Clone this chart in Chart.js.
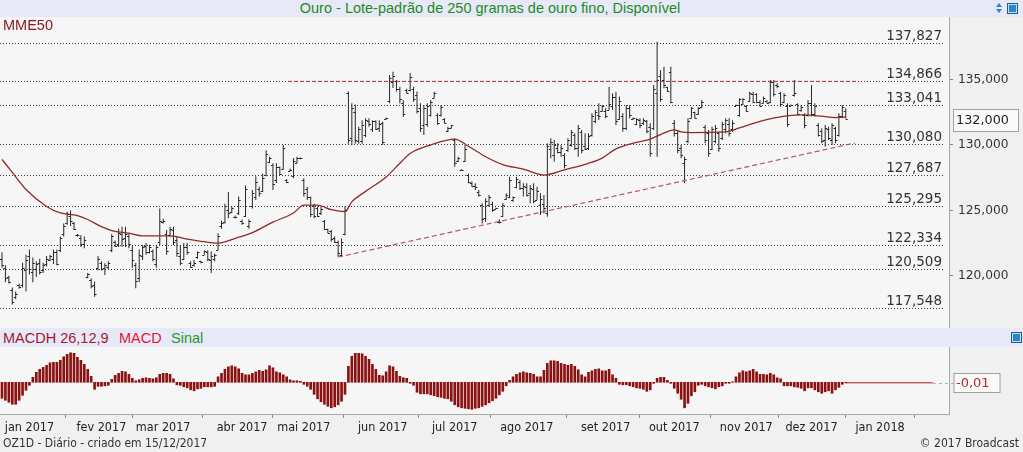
<!DOCTYPE html>
<html lang="pt-BR">
<head>
<meta charset="utf-8">
<title>Ouro - OZ1D - Diário</title>
<script src="https://cdn.jsdelivr.net/npm/chart.js@4.4.1/dist/chart.umd.min.js"></script>
<style>
  html, body { margin: 0; padding: 0; }
  body {
    width: 1023px; height: 452px; position: relative; overflow: hidden;
    background: #F0F0F0; font-family: "Liberation Sans", Arial, sans-serif;
  }
  canvas { display: block; }
  .band { position: absolute; left: 0; width: 1023px; background: #E7E9F8; }
  #title-band { top: 0; height: 17px; }
  #title {
    position: absolute; left: 0; top: 0; width: 980px; text-align: center;
    font-size: 14.5px; line-height: 17px; color: #1E8B1E; white-space: nowrap;
  }
  #price-wrap { position: absolute; left: 0; top: 17px; width: 1023px; height: 311px; }
  #mme-label {
    position: absolute; left: 3px; top: 18px; font-size: 14.5px; line-height: 15px; color: #8B1A22;
  }
  #macd-band { top: 328px; height: 19px; }
  #macd-band span { position: absolute; top: 1px; font-size: 14.5px; line-height: 19px; white-space: nowrap; }
  #macd-wrap { position: absolute; left: 0; top: 347px; width: 1023px; height: 90px; }
  .foot {
    position: absolute; top: 436px; font-family: "DejaVu Sans Condensed", "DejaVu Sans", sans-serif;
    font-size: 12px; line-height: 15px; color: #333; white-space: nowrap;
  }
  .icon {
    position: absolute; width: 9px; height: 9px; background: #2F86C9;
    border: 1px solid #1C5E96; box-shadow: inset 0 0 0 1px #BFE0F7;
  }
  .tri { position: absolute; width: 0; height: 0; border-left: 3px solid transparent; border-right: 3px solid transparent; }
</style>
</head>
<body>

<div id="title-band" class="band">
  <span id="title">Ouro - Lote-padrão de 250 gramas de ouro fino, Disponível</span>
  <div class="tri" style="left:996px; top:3px; border-bottom:4px solid #2F86C9;"></div>
  <div class="tri" style="left:996px; top:9px; border-top:4px solid #2F86C9;"></div>
  <div class="icon" style="left:1007px; top:3px;"></div>
</div>

<div id="price-wrap"><canvas id="price-chart" width="1023" height="311"></canvas></div>
<div id="mme-label">MME50</div>

<div id="macd-band" class="band">
  <span style="left:3px; color:#A3182A;">MACDH 26,12,9</span>
  <span style="left:119px; color:#E0182E;">MACD</span>
  <span style="left:171px; color:#2A962A;">Sinal</span>
  <div class="icon" style="left:1011px; top:4px;"></div>
</div>

<div id="macd-wrap"><canvas id="macd-chart" width="1023" height="90"></canvas></div>

<div class="foot" style="left:3px;">OZ1D - Diário - criado em 15/12/2017</div>
<div class="foot" style="right:4px;">© 2017 Broadcast</div>

<script>
// Dados diários (índice = pregão, 0 = fim de dez/2016)
const opens = [
  121.3, 120.6, 119.9, 118.9, 118.4, 119.3, 119.3, 120.4, 121.5, 120.3,
  120.5, 121.0, 120.4, 120.9, 121.2, 121.3, 121.8, 122.0, 123.2, 124.0,
  124.6, 124.0, 123.1, 122.9, 122.4, 119.9, 119.7, 119.3, 120.6, 121.0,
  120.6, 120.7, 122.0, 122.6, 122.4, 123.2, 122.9, 123.0, 122.0, 120.8,
  119.8, 121.5, 122.3, 121.8, 121.9, 120.9, 122.6, 124.1, 123.2, 123.1,
  123.5, 122.7, 121.5, 121.3, 122.2, 121.0, 120.8, 121.4, 121.1, 121.6,
  121.8, 121.2, 121.3, 122.0, 123.8, 124.1, 125.0, 124.9, 124.5, 124.8,
  124.2, 124.6, 123.8, 125.3, 126.0, 126.6, 126.5, 127.7, 128.7, 128.5,
  127.3, 128.3, 128.2, 127.3, 128.0, 127.6, 128.6, 129.0, 127.3, 126.6,
  126.0, 125.3, 125.2, 124.8, 124.2, 123.55, 123.4, 122.9, 122.6, 121.6,
  123.2, 134.0, 130.5, 132.5, 130.3, 130.3, 130.8, 131.8, 131.2, 131.8,
  131.3, 131.7, 132.0, 133.4, 134.8, 134.9, 134.3, 133.2, 134.2, 134.2,
  134.3, 133.8, 132.8, 131.5, 131.6, 132.3, 133.6, 132.3, 132.3, 132.0,
  131.1, 131.3, 130.4, 128.8, 128.1, 128.8, 127.7, 127.1, 126.9, 126.4,
  125.4, 124.4, 125.4, 125.5, 125.1, 124.1, 124.6, 125.9, 126.0, 125.8,
  126.8, 127.2, 126.7, 126.8, 126.3, 126.6, 125.8, 125.4, 125.5, 124.8,
  129.7, 129.2, 129.8, 129.5, 129.2, 129.6, 130.0, 130.8, 129.8, 131.0,
  129.9, 129.8, 130.8, 131.8, 132.3, 132.6, 132.6, 132.7, 133.0, 133.7,
  132.0, 132.2, 131.3, 132.8, 132.0, 131.6, 131.9, 131.7, 131.8, 131.4,
  131.3, 134.0, 135.3, 135.0, 134.4, 135.6, 131.7, 130.9, 129.8, 128.6,
  130.3, 132.1, 132.5, 132.4, 132.9, 131.4, 130.9, 129.7, 130.3, 130.9,
  130.5, 131.2, 131.6, 131.2, 133.0, 132.3, 133.1, 133.0, 133.4, 133.9,
  133.9, 133.3, 133.2, 133.4, 133.3, 134.8, 134.6, 134.0, 133.3, 133.0,
  133.0, 133.8, 133.1, 132.7, 132.3, 132.3, 133.2, 132.4, 131.5, 131.1,
  130.4, 131.2, 130.4, 131.3, 130.8, 132.2, 132.6
];
const highs = [
  121.8, 120.8, 120.0, 119.1, 118.8, 119.4, 121.0, 121.6, 122.0, 121.4,
  121.1, 121.3, 121.0, 121.5, 121.6, 122.0, 122.0, 123.0, 124.0, 124.9,
  125.0, 124.1, 123.2, 123.1, 123.0, 120.2, 119.8, 119.55, 121.5, 121.1,
  120.95, 121.1, 123.2, 122.7, 123.6, 123.75, 123.75, 123.2, 122.3, 121.0,
  122.0, 122.35, 122.5, 122.35, 122.0, 122.35, 125.15, 124.35, 123.5, 123.75,
  123.75, 123.0, 122.35, 122.5, 122.5, 121.1, 121.2, 121.85, 121.15, 121.95,
  121.95, 121.85, 121.7, 123.25, 124.2, 125.5, 126.4, 125.3, 124.6, 126.05,
  124.3, 126.9, 124.3, 126.55, 127.6, 126.8, 127.8, 129.6, 129.1, 128.6,
  128.6, 128.35, 130.0, 127.4, 128.2, 129.0, 129.1, 129.05, 127.45, 126.8,
  126.05, 125.5, 125.3, 125.3, 124.26, 123.6, 123.5, 123.0, 122.7, 122.85,
  125.3, 134.1, 133.2, 133.1, 131.4, 131.9, 132.05, 132.05, 131.9, 131.9,
  131.9, 131.8, 132.1, 135.35, 135.6, 134.97, 134.45, 133.45, 134.3, 135.5,
  134.45, 134.1, 133.2, 133.06, 133.2, 133.44, 134.08, 132.43, 133.06, 132.04,
  131.4, 131.53, 130.5, 129.1, 128.15, 130.0, 127.8, 127.2, 127.07, 126.56,
  125.54, 125.92, 126.17, 125.66, 125.2, 124.3, 125.54, 126.3, 127.57, 126.05,
  127.57, 127.32, 127.07, 127.07, 126.94, 127.07, 126.81, 126.3, 126.17, 130.13,
  130.51, 130.38, 130.13, 130.0, 129.36, 130.51, 131.15, 130.9, 131.53, 131.15,
  130.9, 130.9, 132.43, 132.68, 133.19, 133.06, 132.81, 134.46, 133.95, 134.08,
  133.7, 132.43, 133.06, 133.06, 132.1, 132.04, 132.04, 132.04, 131.91, 131.66,
  134.59, 137.9, 135.74, 135.99, 134.46, 135.99, 131.91, 131.15, 130.0, 129.1,
  132.04, 132.93, 132.55, 132.9, 133.44, 131.53, 131.15, 131.4, 131.53, 131.02,
  131.78, 132.04, 132.04, 131.9, 133.1, 133.57, 133.57, 133.06, 134.08, 134.08,
  133.95, 133.44, 133.7, 133.44, 134.97, 134.97, 134.72, 134.08, 133.95, 133.19,
  133.1, 134.97, 133.19, 133.06, 132.43, 133.44, 134.59, 133.19, 131.66, 131.28,
  131.53, 131.4, 131.66, 131.4, 132.43, 133.06, 132.81
];
const lows = [
  120.6, 119.5, 119.4, 117.8, 118.2, 119.0, 119.1, 118.8, 120.1, 119.5,
  119.9, 120.1, 120.2, 120.7, 121.1, 120.9, 120.8, 121.8, 123.0, 123.9,
  123.8, 123.5, 123.0, 122.2, 122.1, 119.8, 119.05, 118.4, 120.4, 120.4,
  120.05, 120.5, 121.8, 122.2, 122.2, 122.2, 122.2, 122.1, 120.6, 119.05,
  119.5, 121.2, 121.6, 121.7, 121.1, 120.6, 122.35, 124.0, 121.6, 123.0,
  122.35, 121.45, 120.8, 121.2, 121.6, 120.6, 120.7, 121.3, 120.95, 121.6,
  121.1, 120.2, 121.1, 121.95, 123.6, 124.0, 124.4, 124.8, 124.4, 124.65,
  123.9, 124.5, 123.6, 125.15, 125.8, 126.05, 126.4, 127.6, 128.6, 126.55,
  127.1, 127.7, 128.1, 127.1, 128.0, 127.45, 128.6, 128.9, 126.05, 125.8,
  124.5, 124.4, 124.5, 124.65, 123.5, 123.25, 122.6, 122.5, 121.45, 121.45,
  123.1, 130.1, 130.0, 130.1, 130.1, 130.1, 130.6, 131.4, 131.0, 131.15,
  131.0, 130.0, 131.95, 133.2, 134.35, 134.1, 133.2, 132.15, 133.95, 134.1,
  133.3, 132.4, 131.0, 130.77, 131.4, 132.17, 133.57, 131.53, 132.17, 131.66,
  131.0, 131.28, 128.34, 128.7, 128.05, 128.7, 127.07, 126.8, 126.56, 126.05,
  124.0, 124.13, 125.28, 124.9, 125.1, 124.0, 124.5, 125.8, 125.92, 125.66,
  126.69, 126.56, 126.05, 126.05, 125.54, 125.54, 125.79, 124.64, 124.77, 124.51,
  128.98, 128.72, 129.36, 129.1, 128.2, 129.49, 129.87, 129.62, 129.1, 129.36,
  129.62, 129.62, 130.64, 131.66, 131.91, 132.55, 132.04, 132.68, 132.68, 131.53,
  131.91, 131.02, 131.15, 132.04, 131.95, 131.53, 131.28, 131.53, 130.9, 129.1,
  131.15, 129.1, 133.31, 134.34, 134.08, 133.19, 130.64, 129.36, 128.98, 127.07,
  130.13, 132.04, 132.04, 132.3, 132.81, 130.13, 129.1, 129.62, 130.13, 129.49,
  130.38, 130.9, 130.64, 131.0, 133.0, 132.17, 133.06, 132.55, 133.31, 133.19,
  133.19, 132.93, 133.19, 133.19, 133.19, 133.7, 134.34, 132.93, 133.19, 131.4,
  133.0, 133.7, 132.3, 132.55, 131.28, 132.17, 132.17, 132.17, 130.64, 130.13,
  129.87, 130.38, 130.0, 130.13, 130.64, 132.04, 132.0
];
const closes = [
  120.8, 119.8, 119.5, 118.0, 118.6, 119.1, 120.6, 121.2, 120.5, 121.0,
  120.9, 120.3, 120.8, 121.3, 121.5, 121.8, 120.9, 122.9, 123.8, 124.7,
  124.2, 123.6, 123.1, 122.4, 122.7, 120.15, 119.2, 118.6, 121.3, 120.5,
  120.8, 121.0, 123.0, 122.3, 123.3, 122.8, 123.2, 122.4, 121.2, 119.6,
  121.6, 122.2, 121.8, 122.2, 121.3, 122.2, 124.2, 124.2, 121.9, 123.6,
  122.6, 121.7, 121.0, 122.2, 121.8, 120.7, 121.0, 121.8, 121.05, 121.9,
  121.3, 121.5, 121.6, 123.0, 124.05, 125.3, 124.8, 125.2, 124.5, 125.8,
  124.0, 126.6, 124.2, 126.3, 127.2, 126.3, 127.5, 129.3, 129.0, 127.0,
  128.3, 127.8, 129.8, 127.2, 128.1, 128.8, 129.0, 129.0, 126.3, 126.0,
  124.7, 124.6, 124.6, 125.1, 123.6, 123.3, 122.8, 122.6, 121.7, 122.6,
  125.0, 130.4, 132.8, 130.4, 131.2, 131.5, 131.9, 131.6, 131.8, 131.2,
  131.6, 130.2, 132.05, 135.1, 135.3, 134.3, 133.5, 132.4, 134.0, 135.2,
  133.5, 132.6, 131.3, 132.8, 133.0, 133.3, 133.95, 131.7, 132.9, 131.7,
  131.3, 131.5, 128.6, 129.0, 128.1, 129.7, 127.2, 126.85, 126.8, 126.2,
  124.3, 125.7, 126.0, 125.0, 125.15, 124.1, 125.4, 126.2, 127.3, 126.0,
  127.4, 126.7, 126.9, 126.2, 126.7, 125.7, 126.5, 125.9, 125.2, 129.9,
  130.2, 130.0, 129.5, 129.8, 128.5, 130.4, 131.0, 129.8, 131.3, 129.6,
  129.7, 130.7, 132.2, 132.5, 132.2, 133.0, 132.2, 133.1, 133.7, 131.8,
  133.4, 131.3, 132.8, 132.3, 132.04, 131.95, 131.5, 131.9, 131.1, 129.4,
  134.3, 135.0, 133.5, 134.6, 134.1, 133.3, 130.9, 129.6, 129.2, 128.95,
  131.8, 132.8, 132.1, 132.8, 133.3, 130.4, 129.4, 131.2, 131.3, 129.8,
  131.6, 131.9, 130.9, 131.7, 133.06, 133.5, 133.5, 132.6, 134.0, 133.3,
  133.3, 133.0, 133.6, 133.2, 134.8, 133.9, 134.5, 133.1, 133.8, 131.6,
  133.06, 134.0, 132.4, 132.9, 131.5, 133.2, 132.4, 133.0, 130.8, 130.3,
  131.3, 130.5, 131.5, 130.4, 132.2, 132.9, 132.0
];

const mmeIdx = [
  0, 3, 7, 13, 17, 22, 25, 29, 32, 37, 41, 49, 54, 59, 63, 69, 73, 79, 85, 88,
  92, 96, 100, 102, 106, 112, 116, 119, 125, 132, 136, 141, 146, 152, 158, 164, 171, 175, 179, 185,
  189, 192, 196, 198, 201, 211, 215, 221, 227, 233, 239, 243, 246
];
const mmeVals = [
  128.9, 127.9, 126.6, 125.3, 124.8, 124.6, 124.3, 123.75, 123.45, 123.25, 123.05, 123.05, 122.8, 122.6, 122.5, 122.95, 123.3, 124.1, 124.8, 125.4,
  125.4, 125.05, 124.9, 125.65, 126.45, 127.55, 128.6, 129.35, 130.0, 130.45, 129.9, 129.1, 128.5, 128.15, 127.7, 128.1, 128.6, 129.0, 129.7, 130.2,
  130.45, 130.8, 131.15, 131.0, 130.95, 131.0, 131.3, 131.8, 132.15, 132.3, 132.2, 132.1, 132.15
];

// MACDH 26,12,9
const macdHist = [
  -0.32, -0.36, -0.40, -0.44, -0.44, -0.36, -0.26, -0.16, -0.06,
  0.10, 0.20, 0.26, 0.30, 0.34, 0.39, 0.40, 0.40, 0.44, 0.51, 0.56, 0.59, 0.58, 0.50, 0.44, 0.36, 0.26, 0.12,
  -0.14, -0.08, -0.08, -0.07, -0.06,
  0.06, 0.14, 0.18, 0.22, 0.21, 0.16, 0.08, 0.03, 0.05, 0.08, 0.09, 0.08, 0.07, 0.09, 0.16, 0.18, 0.18, 0.16, 0.07,
  -0.05, -0.06, -0.09, -0.11, -0.15, -0.17, -0.13, -0.12, -0.09, -0.09, -0.09, -0.08,
  0.11, 0.18, 0.26, 0.31, 0.33, 0.31, 0.27, 0.18, 0.15, 0.15, 0.18, 0.21, 0.24, 0.22, 0.25, 0.33, 0.29, 0.21, 0.19, 0.15, 0.11, 0.05, 0.03, 0.03, 0.02,
  -0.04, -0.08, -0.14, -0.24, -0.33, -0.39, -0.44, -0.48, -0.51, -0.49, -0.45, -0.38, -0.24,
  0.32, 0.52, 0.58, 0.58, 0.57, 0.52, 0.46, 0.36, 0.26, 0.14, 0.13, 0.21, 0.33, 0.31, 0.22, 0.12, 0.09, 0.08, -0.02,
  -0.06, -0.20, -0.23, -0.23, -0.23, -0.25, -0.27, -0.29, -0.30, -0.32, -0.33, -0.38, -0.45, -0.49, -0.51, -0.52, -0.53, -0.54, -0.52, -0.51, -0.48, -0.45, -0.41, -0.37, -0.32, -0.25, -0.18, -0.07, 0.04,
  0.11, 0.16, 0.19, 0.21, 0.19, 0.18, 0.16, 0.11, 0.11, 0.24, 0.38, 0.43, 0.43, 0.42, 0.38, 0.36, 0.34, 0.36, 0.32, 0.25, 0.15, 0.11, 0.20, 0.23, 0.26, 0.27, 0.23, 0.23, 0.26, 0.15, 0.08,
  -0.04, -0.05, -0.05, -0.07, -0.09, -0.11, -0.12, -0.14, -0.18, -0.15, -0.02,
  0.08, 0.10, 0.10, 0.04, -0.02, -0.12, -0.22, -0.34, -0.51, -0.42, -0.27, -0.19, -0.06, -0.04, -0.07, -0.09, -0.11, -0.13, -0.09, -0.07, -0.02, -0.02, 0.01,
  0.11, 0.19, 0.23, 0.21, 0.23, 0.26, 0.21, 0.16, 0.16, 0.15, 0.18, 0.15, 0.09, 0.07,
  -0.07, -0.07, -0.07, -0.09, -0.10, -0.12, -0.17, -0.11, -0.11, -0.15, -0.19, -0.22, -0.19, -0.17, -0.22, -0.15, -0.10, -0.04, -0.01
];

// Níveis horizontais, linhas de tendência e eixos
const fiboLevels = [137.827, 134.866, 133.041, 130.080, 127.687, 125.295, 122.334, 120.509, 117.548];
const priceTicks = [120, 125, 130, 135];
const supportLine = [{ x: 98, y: 121.43 }, { x: 248.7, y: 130.15 }];
const resistLine = [{ x: 83.4, y: 134.866 }, { x: 250, y: 134.866 }];
const monthIdx = [8, 29, 47, 70, 88, 111, 132, 153, 176, 196, 217, 236, 256];
const monthLabels = ['jan 2017', 'fev 2017', 'mar 2017', 'abr 2017', 'mai 2017', 'jun 2017', 'jul 2017',
  'ago 2017', 'set 2017', 'out 2017', 'nov 2017', 'dez 2017', 'jan 2018'];
const lastPrice = 132.0;
const lastMacd = -0.01;

const X_MIN = -0.58;
const X_MAX = 276.1;
const AXIS_W = 74;
const GRID_COLOR = '#A8A8A8';
const DEJAVU = '"DejaVu Sans", Verdana, sans-serif';
const DEJAVU_COND = '"DejaVu Sans Condensed", "DejaVu Sans", sans-serif';

function fmtNum(v, d) {
  return v.toFixed(d).replace('.', ',');
}

// Fundo da área de plotagem
const panelBg = {
  id: 'panelBg',
  beforeDraw(chart) {
    const { ctx, chartArea: a } = chart;
    ctx.save();
    ctx.fillStyle = '#F6F6F6';
    ctx.fillRect(a.left, a.top, a.right - a.left, a.bottom - a.top);
    ctx.restore();
  }
};

// Linhas pontilhadas dos níveis e seus rótulos
const levelLines = {
  id: 'levelLines',
  beforeDatasetsDraw(chart) {
    const { ctx, chartArea: a, scales: { y } } = chart;
    ctx.save();
    ctx.strokeStyle = '#3A3A3A';
    ctx.lineWidth = 1;
    ctx.setLineDash([1, 2]);
    fiboLevels.forEach(v => {
      const py = Math.round(y.getPixelForValue(v)) + 0.5;
      ctx.beginPath();
      ctx.moveTo(a.left, py);
      ctx.lineTo(a.right - 6, py);
      ctx.stroke();
    });
    ctx.restore();
  },
  afterDatasetsDraw(chart) {
    const { ctx, chartArea: a, scales: { y } } = chart;
    ctx.save();
    ctx.fillStyle = '#333';
    ctx.font = '13.5px ' + DEJAVU;
    ctx.textAlign = 'right';
    ctx.textBaseline = 'alphabetic';
    fiboLevels.forEach(v => {
      const py = Math.round(y.getPixelForValue(v));
      ctx.fillText(fmtNum(v, 3), a.right - 7, py - 3);
    });
    ctx.restore();
  }
};

// Traços de abertura (esquerda) e fechamento (direita)
const ohlcTicks = {
  id: 'ohlcTicks',
  afterDatasetsDraw(chart) {
    const { ctx, scales: { x, y } } = chart;
    ctx.save();
    ctx.strokeStyle = '#262626';
    ctx.lineWidth = 1;
    ctx.beginPath();
    for (let i = 0; i < closes.length; i++) {
      const px = x.getPixelForValue(i);
      const yo = Math.round(y.getPixelForValue(opens[i])) + 0.5;
      const yc = Math.round(y.getPixelForValue(closes[i])) + 0.5;
      ctx.moveTo(px - 2, yo);
      ctx.lineTo(px, yo);
      ctx.moveTo(px, yc);
      ctx.lineTo(px + 2, yc);
    }
    ctx.stroke();
    ctx.restore();
  }
};

// Caixa com o último preço
const lastPriceBox = {
  id: 'lastPriceBox',
  afterDraw(chart) {
    const { ctx, chartArea: a, scales: { y } } = chart;
    const py = Math.round(y.getPixelForValue(lastPrice));
    ctx.save();
    ctx.fillStyle = '#F9F9F9';
    ctx.fillRect(a.right + 4, py - 10, 65, 22);
    ctx.strokeStyle = '#A0A0A0';
    ctx.strokeRect(a.right + 4.5, py - 9.5, 65, 22);
    ctx.fillStyle = '#222';
    ctx.font = '12.8px ' + DEJAVU;
    ctx.textBaseline = 'middle';
    ctx.fillText(fmtNum(lastPrice, 3), a.right + 7, py + 1.5);
    ctx.restore();
  }
};

// Caixa com o último valor do MACDH
const lastMacdBox = {
  id: 'lastMacdBox',
  afterDraw(chart) {
    const { ctx, chartArea: a, scales: { x, y } } = chart;
    const py = Math.round(y.getPixelForValue(lastMacd)) + 0.5;
    ctx.save();
    ctx.strokeStyle = '#B0B0B0';
    ctx.setLineDash([3, 3]);
    ctx.beginPath();
    ctx.moveTo(x.getPixelForValue(271.4), py);
    ctx.lineTo(a.right + 5, py);
    ctx.stroke();
    ctx.setLineDash([]);
    ctx.fillStyle = '#F9F9F9';
    ctx.fillRect(a.right + 5, py - 10.5, 46, 19);
    ctx.strokeStyle = '#A0A0A0';
    ctx.strokeRect(a.right + 5, py - 10, 46, 19);
    ctx.fillStyle = '#B8282E';
    ctx.font = '13px ' + DEJAVU;
    ctx.textBaseline = 'middle';
    ctx.fillText(fmtNum(lastMacd, 2), a.right + 7, py);
    ctx.restore();
  }
};

function rightAxisFit(scale) {
  scale.width = AXIS_W;
  scale.paddingTop = 0;
  scale.paddingBottom = 0;
}

// Painel de preços
new Chart(document.getElementById('price-chart'), {
  type: 'bar',
  data: {
    datasets: [
      {
        type: 'bar',
        data: highs.map((h, i) => ({ x: i, y: [lows[i], h] })),
        backgroundColor: '#262626',
        borderWidth: 0,
        barThickness: 1,
        inflateAmount: 0,
        order: 3
      },
      {
        type: 'line',
        data: mmeIdx.map((x, k) => ({ x: x, y: mmeVals[k] })),
        borderColor: '#8E2A2A',
        borderWidth: 1.3,
        pointRadius: 0,
        cubicInterpolationMode: 'monotone',
        order: 2
      },
      {
        type: 'line',
        data: supportLine,
        borderColor: '#B45A5A',
        borderWidth: 1.2,
        borderDash: [5, 3],
        pointRadius: 0,
        order: 1
      },
      {
        type: 'line',
        data: resistLine,
        borderColor: '#A83A3A',
        borderWidth: 1,
        borderDash: [4, 2],
        pointRadius: 0,
        order: 1
      }
    ]
  },
  options: {
    responsive: false,
    animation: false,
    devicePixelRatio: 1,
    layout: { padding: 0 },
    plugins: { legend: { display: false }, tooltip: { enabled: false } },
    scales: {
      x: { type: 'linear', min: X_MIN, max: X_MAX, display: false, offset: false },
      y: {
        type: 'linear',
        position: 'right',
        min: 116.0,
        max: 139.79,
        afterBuildTicks: s => { s.ticks = priceTicks.map(v => ({ value: v })); },
        afterFit: rightAxisFit,
        ticks: {
          callback: v => fmtNum(v, 3),
          color: '#333',
          padding: 5,
          font: { family: DEJAVU, size: 12.2 }
        },
        grid: { drawOnChartArea: false, drawTicks: true, tickLength: 4, color: '#8A8A8A' },
        border: { display: true, color: GRID_COLOR }
      }
    }
  },
  plugins: [panelBg, levelLines, ohlcTicks, lastPriceBox]
});

// Painel MACD
new Chart(document.getElementById('macd-chart'), {
  type: 'bar',
  data: {
    datasets: [
      {
        type: 'bar',
        data: macdHist.map((v, i) => ({ x: i, y: v })),
        backgroundColor: '#8C1212',
        borderWidth: 0,
        barThickness: 2
      },
      {
        type: 'line',
        data: [{ x: macdHist.length - 1, y: lastMacd }, { x: 271.4, y: lastMacd }],
        borderColor: '#A32222',
        borderWidth: 1,
        pointRadius: 0
      }
    ]
  },
  options: {
    responsive: false,
    animation: false,
    devicePixelRatio: 1,
    layout: { padding: 0 },
    plugins: { legend: { display: false }, tooltip: { enabled: false } },
    scales: {
      x: {
        type: 'linear',
        position: 'bottom',
        min: X_MIN,
        max: X_MAX,
        offset: false,
        afterBuildTicks: s => { s.ticks = monthIdx.map(v => ({ value: v })); },
        afterFit: s => { s.height = 23; s.paddingLeft = 0; s.paddingRight = 0; },
        ticks: {
          callback: (v, i) => monthLabels[i],
          color: '#222',
          padding: 2,
          maxRotation: 0,
          autoSkip: false,
          font: { family: DEJAVU_COND, size: 12.5 }
        },
        grid: { drawOnChartArea: false, drawTicks: true, tickLength: 4, color: '#8A8A8A' },
        border: { display: true, color: GRID_COLOR }
      },
      y: {
        type: 'linear',
        position: 'right',
        min: -0.634,
        max: 0.706,
        afterFit: rightAxisFit,
        ticks: { display: false },
        grid: { display: false },
        border: { display: true, color: GRID_COLOR }
      }
    }
  },
  plugins: [panelBg, lastMacdBox]
});
</script>
</body>
</html>
